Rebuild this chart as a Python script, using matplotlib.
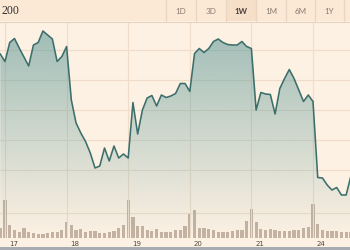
import matplotlib
matplotlib.use('Agg')
import matplotlib.pyplot as plt
import numpy as np
import matplotlib.colors as mcolors
from matplotlib.patches import Rectangle, Polygon
from matplotlib.lines import Line2D

# ---------------- data ----------------
day_labels = ['17', '18', '19', '20', '21', '24']
points_per_day = 13          # 30-minute intervals per session
range_buttons = ['1D', '3D', '1W', '1M', '6M', '1Y']
active_button = '1W'
title_text = '200'

prices = [7232,
          7217, 7255, 7263, 7244, 7226, 7208, 7250, 7255, 7278, 7270, 7262, 7217, 7227,
          7247, 7140, 7094, 7074, 7057, 7034, 7004, 7008, 7044, 7018, 7048, 7024, 7032,
          7024, 7135, 7072, 7120, 7144, 7149, 7128, 7150, 7145, 7148, 7153, 7173, 7173,
          7157, 7233, 7243, 7235, 7243, 7257, 7262, 7255, 7251, 7250, 7250, 7257, 7247,
          7243, 7120, 7155, 7152, 7151, 7112, 7163, 7183, 7201, 7183, 7160, 7137, 7150,
          7137, 6985, 6984, 6970, 6960, 6965, 6950, 6950, 6988]
volumes = [100,
           380, 130, 80, 57, 97, 57, 47, 40, 37, 47, 57, 63, 80,
           163, 130, 80, 87, 63, 70, 70, 53, 53, 63, 73, 100, 130,
           380, 210, 117, 117, 80, 73, 93, 63, 57, 63, 80, 85, 120,
           240, 280, 97, 97, 87, 80, 63, 57, 63, 73, 80, 80, 173,
           290, 163, 87, 80, 87, 80, 73, 73, 73, 80, 80, 97, 113,
           340, 137, 80, 73, 73, 70, 63, 63, 60]
price_grid = [7000, 7060, 7120, 7180, 7240]
price_range = (6864, 7296)
volume_grid = [250]
volume_range = (0, 480)

# ---------------- style ----------------
W, H = 350, 250
BG = '#fdf1e3'
HEADER = '#fbe8d5'
GRID = '#efddca'
LINE = '#3c6f6b'
FILL = '#509191'
BAR = '#c4b3a3'

fig = plt.figure(figsize=(W / 100, H / 100), dpi=100, facecolor=BG)

def fy(py):
    return 1 - py / H

x = np.arange(len(prices)) - 1
xlim = (-1.055, 72.81)

# volume axes (bottom)
axv = fig.add_axes([0, fy(238), 1, 48 / H], zorder=0)
axv.set_facecolor('none')
axv.bar(x, volumes, width=0.68, color=BAR, linewidth=0)
for g in volume_grid:
    axv.axhline(g, color=GRID, lw=0.8, zorder=0)
axv.set_xlim(*xlim)
axv.set_ylim(*volume_range)
axv.axis('off')

# price axes
ax = fig.add_axes([0, fy(238), 1, (238 - 22) / H], zorder=1)
ax.set_facecolor('none')
ax.set_xlim(*xlim)
ax.set_ylim(*price_range)
for g in price_grid:
    ax.axhline(g, color=GRID, lw=0.8, zorder=0)
for d in range(len(day_labels)):
    ax.axvline(d * points_per_day, color=GRID, lw=0.8, zorder=0)

n = 256
grad = np.zeros((n, 1, 4))
grad[..., :3] = mcolors.to_rgb(FILL)
grad[:, 0, 3] = np.linspace(0.56, 0.0, n)
im = ax.imshow(grad, extent=[xlim[0], xlim[1], price_range[0], price_range[1]],
               aspect='auto', origin='upper', zorder=1, interpolation='bilinear')
verts = [(x[0], price_range[0])] + list(zip(x, prices)) + [(x[-1], price_range[0])]
poly = Polygon(verts, closed=True, facecolor='none', edgecolor='none', transform=ax.transData)
ax.add_patch(poly)
im.set_clip_path(poly)
ax.plot(x, prices, color=LINE, lw=1.15, zorder=3, solid_joinstyle='round')
ax.axis('off')

# x labels
step_px = W / (xlim[1] - xlim[0])
for d, lab in enumerate(day_labels):
    xpx = (d * points_per_day - xlim[0]) * step_px
    fig.text((xpx + 4) / W, fy(243.5), lab, fontsize=5, color='#4f4944',
             ha='left', va='center', family='DejaVu Sans')

# bottom strip
fig.patches.append(Rectangle((0, 0), 1, 3 / H, transform=fig.transFigure,
                             facecolor='#a9abb3', edgecolor='none'))

# header
fig.patches.append(Rectangle((0, fy(21)), 1, 21 / H, transform=fig.transFigure,
                             facecolor=HEADER, edgecolor='none'))
fig.lines.append(Line2D([0, 1], [fy(21.5), fy(21.5)], transform=fig.transFigure,
                        color='#e6d3c0', lw=0.8))
edges = [166, 196, 226, 256, 286, 315, 344]
for i, lab in enumerate(range_buttons):
    x0, x1 = edges[i], edges[i + 1]
    if lab == active_button:
        fig.patches.append(Rectangle((x0 / W, fy(21)), (x1 - x0) / W, 21 / H,
                                     transform=fig.transFigure,
                                     facecolor='#f6dfc9', edgecolor='none'))
    fig.text((x0 + x1) / 2 / W, fy(11), lab, fontsize=5.8,
             color='#4a403a' if lab == active_button else '#8a7d72',
             ha='center', va='center', family='Lato',
             fontweight='bold' if lab == active_button else 'normal')
for e in edges:
    fig.lines.append(Line2D([e / W, e / W], [fy(0), fy(21)], transform=fig.transFigure,
                            color='#e9d5c1', lw=0.9))

fig.text(2 / W, fy(10.5), title_text, fontsize=8.5, color='#33302e',
         ha='left', va='center', family='Liberation Serif')

fig.savefig('out.png', dpi=100, facecolor=BG)
